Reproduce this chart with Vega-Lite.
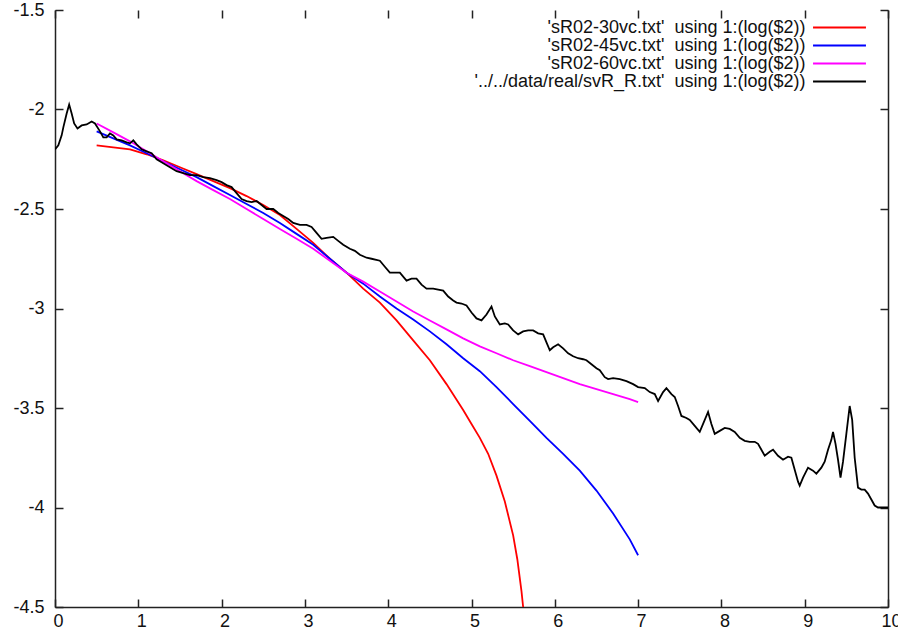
{
  "$schema": "https://vega.github.io/schema/vega-lite/v6.json",
  "width": 833,
  "height": 597,
  "autosize": "none",
  "padding": {"left": 55, "top": 10, "right": 10, "bottom": 27},
  "background": "white",
  "config": {"view": {"stroke": null}, "font": "Liberation Sans"},
  "data": {"values": [
    {"s":"a","x":0.5,"y":-2.18},{"s":"a","x":0.7,"y":-2.19},{"s":"a","x":0.9,"y":-2.2},{"s":"a","x":1.1,"y":-2.225},{"s":"a","x":1.3,"y":-2.255},{"s":"a","x":1.5,"y":-2.29},{"s":"a","x":1.7,"y":-2.325},{"s":"a","x":1.9,"y":-2.36},{"s":"a","x":2.1,"y":-2.395},{"s":"a","x":2.3,"y":-2.435},{"s":"a","x":2.5,"y":-2.48},{"s":"a","x":2.7,"y":-2.53},{"s":"a","x":2.9,"y":-2.6},{"s":"a","x":3.1,"y":-2.67},{"s":"a","x":3.3,"y":-2.75},{"s":"a","x":3.5,"y":-2.82},{"s":"a","x":3.7,"y":-2.9},{"s":"a","x":3.9,"y":-2.97},{"s":"a","x":4.1,"y":-3.06},{"s":"a","x":4.3,"y":-3.16},{"s":"a","x":4.5,"y":-3.26},{"s":"a","x":4.7,"y":-3.38},{"s":"a","x":4.9,"y":-3.51},{"s":"a","x":5.0,"y":-3.58},{"s":"a","x":5.1,"y":-3.65},{"s":"a","x":5.2,"y":-3.73},{"s":"a","x":5.3,"y":-3.84},{"s":"a","x":5.4,"y":-3.97},{"s":"a","x":5.5,"y":-4.14},{"s":"a","x":5.55,"y":-4.26},{"s":"a","x":5.6,"y":-4.42},{"s":"a","x":5.62,"y":-4.5},
    {"s":"b","x":0.5,"y":-2.11},{"s":"b","x":0.7,"y":-2.145},{"s":"b","x":0.9,"y":-2.18},{"s":"b","x":1.1,"y":-2.22},{"s":"b","x":1.3,"y":-2.26},{"s":"b","x":1.5,"y":-2.3},{"s":"b","x":1.7,"y":-2.34},{"s":"b","x":1.9,"y":-2.385},{"s":"b","x":2.1,"y":-2.43},{"s":"b","x":2.3,"y":-2.475},{"s":"b","x":2.5,"y":-2.52},{"s":"b","x":2.7,"y":-2.57},{"s":"b","x":2.9,"y":-2.625},{"s":"b","x":3.1,"y":-2.68},{"s":"b","x":3.3,"y":-2.75},{"s":"b","x":3.5,"y":-2.82},{"s":"b","x":3.7,"y":-2.875},{"s":"b","x":3.9,"y":-2.94},{"s":"b","x":4.1,"y":-3.0},{"s":"b","x":4.3,"y":-3.055},{"s":"b","x":4.5,"y":-3.115},{"s":"b","x":4.7,"y":-3.18},{"s":"b","x":4.9,"y":-3.25},{"s":"b","x":5.1,"y":-3.315},{"s":"b","x":5.3,"y":-3.395},{"s":"b","x":5.5,"y":-3.48},{"s":"b","x":5.7,"y":-3.565},{"s":"b","x":5.9,"y":-3.65},{"s":"b","x":6.1,"y":-3.73},{"s":"b","x":6.3,"y":-3.815},{"s":"b","x":6.5,"y":-3.915},{"s":"b","x":6.7,"y":-4.03},{"s":"b","x":6.9,"y":-4.16},{"s":"b","x":7.0,"y":-4.24},
    {"s":"c","x":0.5,"y":-2.07},{"s":"c","x":0.7,"y":-2.115},{"s":"c","x":0.9,"y":-2.16},{"s":"c","x":1.1,"y":-2.21},{"s":"c","x":1.3,"y":-2.26},{"s":"c","x":1.5,"y":-2.31},{"s":"c","x":1.7,"y":-2.36},{"s":"c","x":1.9,"y":-2.405},{"s":"c","x":2.1,"y":-2.45},{"s":"c","x":2.3,"y":-2.5},{"s":"c","x":2.5,"y":-2.55},{"s":"c","x":2.7,"y":-2.6},{"s":"c","x":2.9,"y":-2.65},{"s":"c","x":3.1,"y":-2.7},{"s":"c","x":3.3,"y":-2.76},{"s":"c","x":3.5,"y":-2.82},{"s":"c","x":3.7,"y":-2.865},{"s":"c","x":3.9,"y":-2.915},{"s":"c","x":4.1,"y":-2.965},{"s":"c","x":4.3,"y":-3.015},{"s":"c","x":4.5,"y":-3.06},{"s":"c","x":4.7,"y":-3.105},{"s":"c","x":4.9,"y":-3.15},{"s":"c","x":5.1,"y":-3.19},{"s":"c","x":5.3,"y":-3.225},{"s":"c","x":5.5,"y":-3.26},{"s":"c","x":5.7,"y":-3.29},{"s":"c","x":5.9,"y":-3.32},{"s":"c","x":6.1,"y":-3.35},{"s":"c","x":6.3,"y":-3.38},{"s":"c","x":6.5,"y":-3.405},{"s":"c","x":6.7,"y":-3.43},{"s":"c","x":6.9,"y":-3.455},{"s":"c","x":7.0,"y":-3.47},
    {"s":"d","x":0.0,"y":-2.2},{"s":"d","x":0.04,"y":-2.18},{"s":"d","x":0.08,"y":-2.13},{"s":"d","x":0.1,"y":-2.09},{"s":"d","x":0.14,"y":-2.02},{"s":"d","x":0.17,"y":-1.975},{"s":"d","x":0.2,"y":-2.02},{"s":"d","x":0.23,"y":-2.07},{"s":"d","x":0.27,"y":-2.095},{"s":"d","x":0.32,"y":-2.08},{"s":"d","x":0.38,"y":-2.075},{"s":"d","x":0.44,"y":-2.06},{"s":"d","x":0.48,"y":-2.07},{"s":"d","x":0.54,"y":-2.11},{"s":"d","x":0.58,"y":-2.14},{"s":"d","x":0.62,"y":-2.14},{"s":"d","x":0.66,"y":-2.12},{"s":"d","x":0.7,"y":-2.13},{"s":"d","x":0.74,"y":-2.15},{"s":"d","x":0.8,"y":-2.155},{"s":"d","x":0.86,"y":-2.165},{"s":"d","x":0.9,"y":-2.17},{"s":"d","x":0.94,"y":-2.155},{"s":"d","x":0.98,"y":-2.175},{"s":"d","x":1.04,"y":-2.2},{"s":"d","x":1.1,"y":-2.21},{"s":"d","x":1.16,"y":-2.22},{"s":"d","x":1.22,"y":-2.25},{"s":"d","x":1.3,"y":-2.27},{"s":"d","x":1.38,"y":-2.29},{"s":"d","x":1.46,"y":-2.31},{"s":"d","x":1.54,"y":-2.32},{"s":"d","x":1.62,"y":-2.33},{"s":"d","x":1.7,"y":-2.33},{"s":"d","x":1.78,"y":-2.34},{"s":"d","x":1.86,"y":-2.345},{"s":"d","x":1.94,"y":-2.355},{"s":"d","x":2.0,"y":-2.365},{"s":"d","x":2.06,"y":-2.38},{"s":"d","x":2.12,"y":-2.39},{"s":"d","x":2.18,"y":-2.42},{"s":"d","x":2.24,"y":-2.45},{"s":"d","x":2.3,"y":-2.46},{"s":"d","x":2.36,"y":-2.465},{"s":"d","x":2.42,"y":-2.46},{"s":"d","x":2.48,"y":-2.48},{"s":"d","x":2.54,"y":-2.5},{"s":"d","x":2.62,"y":-2.5},{"s":"d","x":2.68,"y":-2.52},{"s":"d","x":2.74,"y":-2.535},{"s":"d","x":2.8,"y":-2.55},{"s":"d","x":2.86,"y":-2.57},{"s":"d","x":2.94,"y":-2.58},{"s":"d","x":3.02,"y":-2.58},{"s":"d","x":3.08,"y":-2.59},{"s":"d","x":3.14,"y":-2.62},{"s":"d","x":3.2,"y":-2.65},{"s":"d","x":3.26,"y":-2.645},{"s":"d","x":3.34,"y":-2.64},{"s":"d","x":3.4,"y":-2.66},{"s":"d","x":3.46,"y":-2.68},{"s":"d","x":3.54,"y":-2.7},{"s":"d","x":3.6,"y":-2.71},{"s":"d","x":3.66,"y":-2.73},{"s":"d","x":3.74,"y":-2.745},{"s":"d","x":3.8,"y":-2.75},{"s":"d","x":3.9,"y":-2.76},{"s":"d","x":3.96,"y":-2.79},{"s":"d","x":4.02,"y":-2.82},{"s":"d","x":4.08,"y":-2.82},{"s":"d","x":4.14,"y":-2.82},{"s":"d","x":4.22,"y":-2.86},{"s":"d","x":4.28,"y":-2.85},{"s":"d","x":4.34,"y":-2.85},{"s":"d","x":4.4,"y":-2.88},{"s":"d","x":4.46,"y":-2.9},{"s":"d","x":4.54,"y":-2.9},{"s":"d","x":4.6,"y":-2.905},{"s":"d","x":4.66,"y":-2.91},{"s":"d","x":4.72,"y":-2.94},{"s":"d","x":4.78,"y":-2.96},{"s":"d","x":4.82,"y":-2.97},{"s":"d","x":4.88,"y":-2.975},{"s":"d","x":4.94,"y":-2.985},{"s":"d","x":5.0,"y":-3.02},{"s":"d","x":5.06,"y":-3.05},{"s":"d","x":5.12,"y":-3.06},{"s":"d","x":5.18,"y":-3.03},{"s":"d","x":5.24,"y":-2.99},{"s":"d","x":5.28,"y":-3.04},{"s":"d","x":5.34,"y":-3.08},{"s":"d","x":5.4,"y":-3.075},{"s":"d","x":5.44,"y":-3.08},{"s":"d","x":5.5,"y":-3.11},{"s":"d","x":5.56,"y":-3.13},{"s":"d","x":5.62,"y":-3.115},{"s":"d","x":5.68,"y":-3.11},{"s":"d","x":5.74,"y":-3.11},{"s":"d","x":5.8,"y":-3.125},{"s":"d","x":5.86,"y":-3.13},{"s":"d","x":5.9,"y":-3.17},{"s":"d","x":5.94,"y":-3.21},{"s":"d","x":5.98,"y":-3.195},{"s":"d","x":6.04,"y":-3.18},{"s":"d","x":6.1,"y":-3.2},{"s":"d","x":6.16,"y":-3.225},{"s":"d","x":6.22,"y":-3.24},{"s":"d","x":6.28,"y":-3.25},{"s":"d","x":6.34,"y":-3.255},{"s":"d","x":6.38,"y":-3.26},{"s":"d","x":6.44,"y":-3.28},{"s":"d","x":6.5,"y":-3.3},{"s":"d","x":6.54,"y":-3.31},{"s":"d","x":6.6,"y":-3.345},{"s":"d","x":6.64,"y":-3.355},{"s":"d","x":6.7,"y":-3.35},{"s":"d","x":6.78,"y":-3.355},{"s":"d","x":6.86,"y":-3.365},{"s":"d","x":6.94,"y":-3.38},{"s":"d","x":7.0,"y":-3.395},{"s":"d","x":7.08,"y":-3.4},{"s":"d","x":7.14,"y":-3.42},{"s":"d","x":7.2,"y":-3.43},{"s":"d","x":7.24,"y":-3.465},{"s":"d","x":7.3,"y":-3.42},{"s":"d","x":7.34,"y":-3.4},{"s":"d","x":7.4,"y":-3.43},{"s":"d","x":7.44,"y":-3.445},{"s":"d","x":7.48,"y":-3.49},{"s":"d","x":7.52,"y":-3.54},{"s":"d","x":7.58,"y":-3.55},{"s":"d","x":7.62,"y":-3.56},{"s":"d","x":7.68,"y":-3.59},{"s":"d","x":7.74,"y":-3.62},{"s":"d","x":7.78,"y":-3.58},{"s":"d","x":7.84,"y":-3.52},{"s":"d","x":7.88,"y":-3.58},{"s":"d","x":7.92,"y":-3.63},{"s":"d","x":7.98,"y":-3.615},{"s":"d","x":8.04,"y":-3.6},{"s":"d","x":8.1,"y":-3.605},{"s":"d","x":8.16,"y":-3.62},{"s":"d","x":8.22,"y":-3.65},{"s":"d","x":8.28,"y":-3.665},{"s":"d","x":8.34,"y":-3.67},{"s":"d","x":8.4,"y":-3.67},{"s":"d","x":8.44,"y":-3.68},{"s":"d","x":8.48,"y":-3.71},{"s":"d","x":8.52,"y":-3.74},{"s":"d","x":8.58,"y":-3.72},{"s":"d","x":8.62,"y":-3.71},{"s":"d","x":8.68,"y":-3.74},{"s":"d","x":8.74,"y":-3.76},{"s":"d","x":8.8,"y":-3.745},{"s":"d","x":8.84,"y":-3.75},{"s":"d","x":8.88,"y":-3.81},{"s":"d","x":8.92,"y":-3.87},{"s":"d","x":8.94,"y":-3.89},{"s":"d","x":8.98,"y":-3.85},{"s":"d","x":9.04,"y":-3.8},{"s":"d","x":9.1,"y":-3.815},{"s":"d","x":9.14,"y":-3.83},{"s":"d","x":9.2,"y":-3.8},{"s":"d","x":9.24,"y":-3.77},{"s":"d","x":9.28,"y":-3.71},{"s":"d","x":9.32,"y":-3.66},{"s":"d","x":9.34,"y":-3.62},{"s":"d","x":9.37,"y":-3.68},{"s":"d","x":9.4,"y":-3.76},{"s":"d","x":9.43,"y":-3.85},{"s":"d","x":9.46,"y":-3.77},{"s":"d","x":9.5,"y":-3.63},{"s":"d","x":9.54,"y":-3.49},{"s":"d","x":9.57,"y":-3.56},{"s":"d","x":9.6,"y":-3.75},{"s":"d","x":9.64,"y":-3.9},{"s":"d","x":9.68,"y":-3.91},{"s":"d","x":9.72,"y":-3.91},{"s":"d","x":9.76,"y":-3.93},{"s":"d","x":9.8,"y":-3.96},{"s":"d","x":9.84,"y":-3.99},{"s":"d","x":9.88,"y":-4.0},{"s":"d","x":9.94,"y":-4.0},{"s":"d","x":10.0,"y":-4.0}
  ]},
  "transform": [
    {"lookup": "s", "from": {"data": {"values": [
      {"s": "a", "label": "'sR02-30vc.txt'\u00a0 using 1:(log($2))"},
      {"s": "b", "label": "'sR02-45vc.txt'\u00a0 using 1:(log($2))"},
      {"s": "c", "label": "'sR02-60vc.txt'\u00a0 using 1:(log($2))"},
      {"s": "d", "label": "'../../data/real/svR_R.txt'\u00a0 using 1:(log($2))"}
    ]}, "key": "s", "fields": ["label"]}}
  ],
  "layer": [
    {
      "mark": {"type": "line", "strokeWidth": 1.8, "clip": true},
      "encoding": {
        "x": {"field": "x", "type": "quantitative", "scale": {"domain": [0, 10], "nice": false, "zero": false},
          "axis": {"orient": "bottom", "values": [0,1,2,3,4,5,6,7,8,9,10], "title": null, "grid": false, "tickSize": -8, "tickWidth": 1.5, "tickColor": "#222", "domainColor": "#222", "domainWidth": 1.5, "labelPadding": 13, "labelOffset": 3, "labelFlush": false, "labelOverlap": false, "labelBound": false, "labelFontSize": 18, "labelFont": "Liberation Sans", "labelColor": "#111", "labelExpr": "datum.value + ''"}},
        "y": {"field": "y", "type": "quantitative", "scale": {"domain": [-4.5, -1.5], "nice": false, "zero": false},
          "axis": {"orient": "left", "values": [-4.5,-4,-3.5,-3,-2.5,-2,-1.5], "title": null, "grid": false, "tickSize": -8, "tickWidth": 1.5, "tickColor": "#222", "domainColor": "#222", "domainWidth": 1.5, "labelPadding": 19, "labelFlush": false, "labelOverlap": false, "labelBound": false, "labelFontSize": 18, "labelFont": "Liberation Sans", "labelColor": "#111", "labelExpr": "datum.value + ''"}},
        "color": {"field": "label", "type": "nominal",
          "scale": {"domain": ["'sR02-30vc.txt'\u00a0 using 1:(log($2))", "'sR02-45vc.txt'\u00a0 using 1:(log($2))", "'sR02-60vc.txt'\u00a0 using 1:(log($2))", "'../../data/real/svR_R.txt'\u00a0 using 1:(log($2))"], "range": ["#ff0000", "#0000ff", "#ff00ff", "#000000"]},
          "legend": {"title": null, "orient": "none", "legendX": 757, "legendY": 8.5, "padding": 0, "symbolType": "M-5,0H5", "symbolSize": 112, "symbolStrokeWidth": 2, "symbolOpacity": 1, "symbolOffset": 18.5, "rowPadding": 0, "labelAlign": "right", "labelOffset": -43, "labelFontSize": 18, "labelFont": "Liberation Sans", "labelColor": "#111", "labelLimit": 600}}
      }
    },
    {
      "mark": {"type": "line", "opacity": 0},
      "encoding": {
        "x": {"field": "x", "type": "quantitative", "axis": {"orient": "top", "values": [0,1,2,3,4,5,6,7,8,9,10], "title": null, "grid": false, "labels": false, "domain": false, "tickSize": -8, "tickWidth": 1.5, "tickColor": "#222"}},
        "y": {"field": "y", "type": "quantitative", "axis": {"orient": "right", "values": [-4.5,-4,-3.5,-3,-2.5,-2,-1.5], "title": null, "grid": false, "labels": false, "domain": true, "domainColor": "#222", "domainWidth": 1.5, "tickSize": -8, "tickWidth": 1.5, "tickColor": "#222"}},
        "detail": {"field": "s"}
      }
    }
  ],
  "resolve": {"axis": {"x": "independent", "y": "independent"}}
}
